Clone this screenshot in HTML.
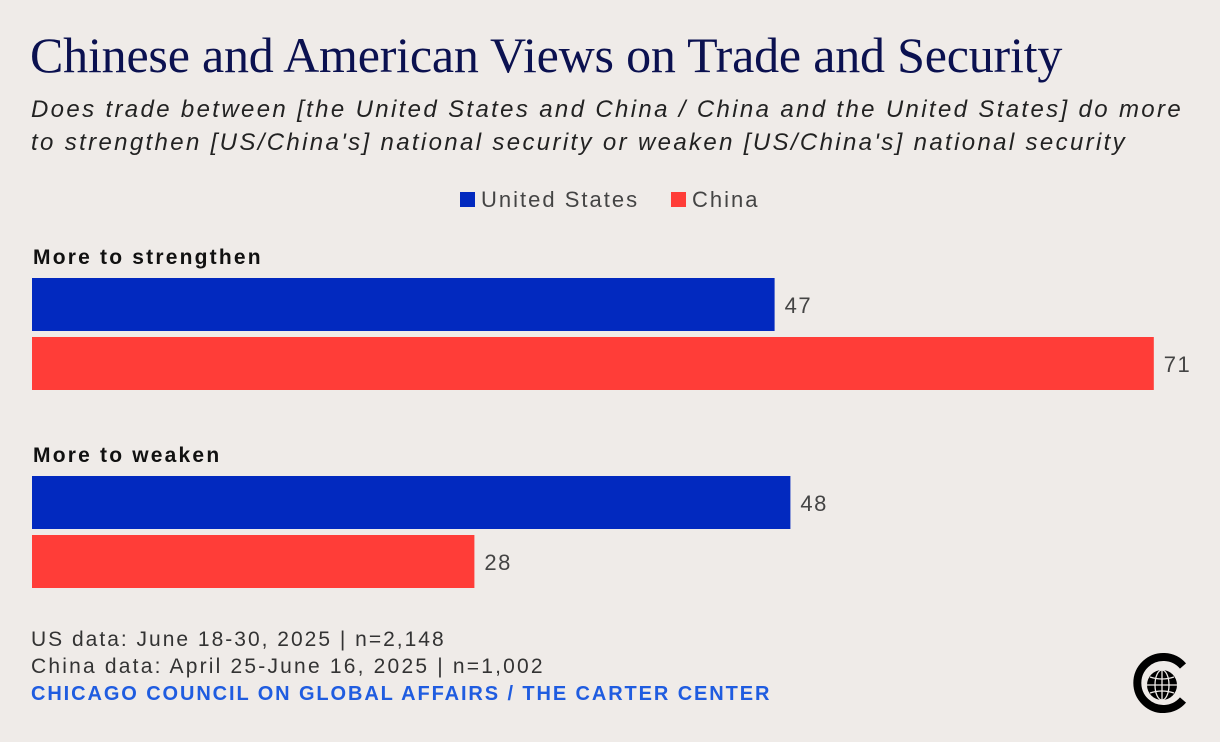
<!DOCTYPE html>
<html><head><meta charset="utf-8"><style>
body{margin:0;width:1220px;height:742px;background:#efebe8;font-family:"Liberation Sans",sans-serif;position:relative;overflow:hidden}
.a{position:absolute;white-space:nowrap}
</style></head><body>
<div class="a" style="left:30px;top:26px;font-family:'Liberation Serif',serif;font-size:50px;color:#0b1150;letter-spacing:-0.2px">Chinese and American Views on Trade and Security</div>
<div class="a" style="left:31px;top:93px;font-size:24px;font-style:italic;color:#222;line-height:33px;letter-spacing:2.35px">Does trade between [the United States and China / China and the United States] do more<br>to strengthen [US/China's] national security or weaken [US/China's] national security</div>
<div class="a" style="left:460px;top:187px;font-size:22px;color:#444;letter-spacing:2px"><span style="display:inline-block;width:15px;height:15px;background:#0229bf;margin-right:6px"></span>United States</div>
<div class="a" style="left:671px;top:187px;font-size:22px;color:#444;letter-spacing:2px"><span style="display:inline-block;width:15px;height:15px;background:#ff3d38;margin-right:6px"></span>China</div>
<svg id="chart" width="1220" height="742" style="position:absolute;left:0;top:0"></svg>
<div class="a" style="left:31px;top:628px;font-size:21px;color:#333;letter-spacing:2px">US data: June 18-30, 2025 | n=2,148</div>
<div class="a" style="left:31px;top:655px;font-size:21px;color:#333;letter-spacing:2.2px">China data: April 25-June 16, 2025 | n=1,002</div>
<div class="a" style="left:31px;top:683px;font-size:20px;font-weight:bold;color:#1f5ce0;letter-spacing:1.9px">CHICAGO COUNCIL ON GLOBAL AFFAIRS / THE CARTER CENTER</div>
<svg class="a" style="left:1120px;top:640px" width="80" height="80">
<path d="M63 26 A26 26 0 1 0 63 60" fill="none" stroke="#000" stroke-width="8"/>
<circle cx="42" cy="45" r="15" fill="#000"/>
<g fill="none" stroke="#efebe8" stroke-width="1.3"><ellipse cx="42" cy="45" rx="7" ry="15"/><line x1="27" y1="45" x2="57" y2="45"/><line x1="42" y1="30" x2="42" y2="60"/><path d="M30 37 Q42 41 54 37 M30 53 Q42 49 54 53"/></g>
</svg>
<script>
const categories=["More to strengthen","More to weaken"];
const usValues=[47,48];
const chinaValues=[71,28];
const svg=document.getElementById('chart');
const NS='http://www.w3.org/2000/svg';
const x0=32, k=15.8;
const xs=v=>v*k;
const groupTop=[278,476];
categories.forEach((c,i)=>{
  const t=document.createElementNS(NS,'text');
  t.setAttribute('x',33);t.setAttribute('y',groupTop[i]-14);
  t.setAttribute('font-size','21');t.setAttribute('font-weight','bold');t.setAttribute('fill','#111');
  t.setAttribute('letter-spacing','2.2');
  t.setAttribute('font-family','Liberation Sans, sans-serif');
  t.textContent=c;
  
  
  svg.appendChild(t);
  [[usValues[i],'#0229bf',0],[chinaValues[i],'#ff3d38',59]].forEach(([v,col,off])=>{
    const r=document.createElementNS(NS,'rect');
    r.setAttribute('x',x0);r.setAttribute('y',groupTop[i]+off);
    r.setAttribute('width',xs(v));r.setAttribute('height',53);r.setAttribute('fill',col);
    
    
    svg.appendChild(r);
    const l=document.createElementNS(NS,'text');
    l.setAttribute('x',x0+xs(v)+10);l.setAttribute('y',groupTop[i]+off+35);
    l.setAttribute('font-size','22');l.setAttribute('fill','#444');
    l.setAttribute('letter-spacing','1.5');
    l.setAttribute('font-family','Liberation Sans, sans-serif');
    l.textContent=v;
    
    
    svg.appendChild(l);
  });
});
</script>
</body></html>
